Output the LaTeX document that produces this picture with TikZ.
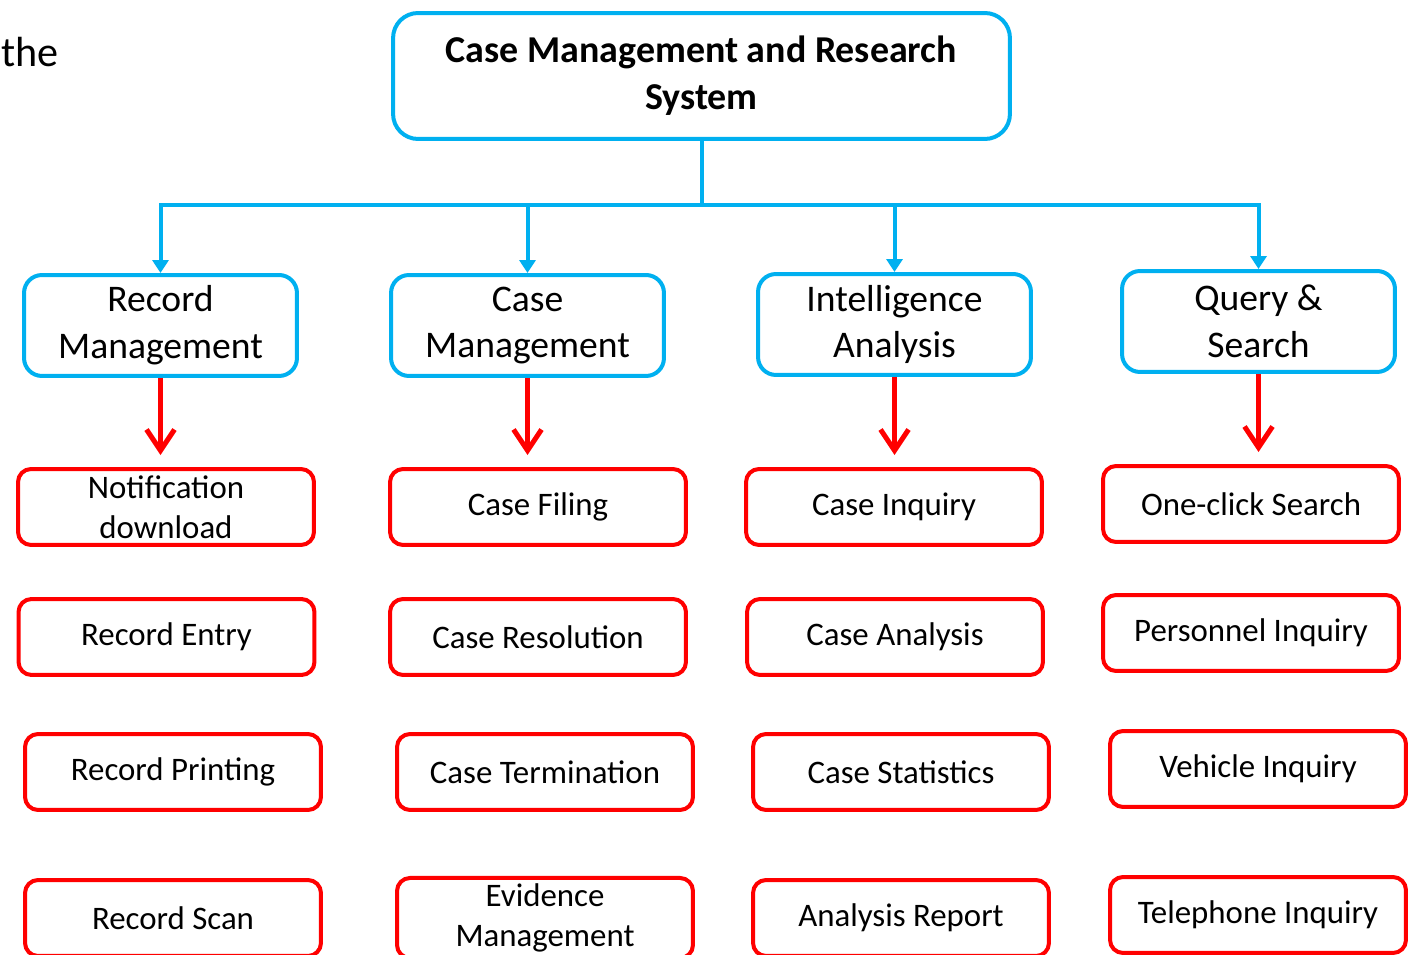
\documentclass[tikz,border=0pt]{standalone}
\usepackage{fontspec}
\setmainfont{Carlito}
\usetikzlibrary{positioning, arrows.meta}
\definecolor{sysblue}{HTML}{00B0F0}
\definecolor{sysred}{HTML}{FF0000}

\begin{document}
\begin{tikzpicture}[x=0.02cm, y=-0.02cm, >=Latex,
    module/.style={draw=sysblue, line width=0.08cm, rounded corners=0.36cm, minimum width=5.46cm, minimum height=2.02cm, align=center, font=\fontsize{21.4}{26.6}\selectfont},
    feature/.style={draw=sysred, line width=0.08cm, rounded corners=0.26cm, minimum width=5.92cm, minimum height=1.52cm, align=center, font=\fontsize{18.7}{22.7}\selectfont},
    branch/.style={draw=sysblue, line width=0.08cm, -{Triangle[length=0.26cm, width=0.32cm]}},
    drill/.style={draw=sysred, line width=0.1cm, -{Straight Barb[length=0.42cm, width=0.56cm]}, shorten >=0.24cm}]
    \path[use as bounding box, clip] (0,0) rectangle (1412,955);
    \fill[white] (0,0) rectangle (1412,955);

    \node[anchor=base west, inner sep=0pt, font=\fontsize{24}{29}\selectfont] (the) at (1,67) {the};

    % top
    \node[draw=sysblue, line width=0.08cm, rounded corners=0.5cm, minimum width=12.34cm, minimum height=2.52cm, align=center, font=\fontsize{21.6}{26.6}\selectfont\bfseries] (cmrs) at (701.5,76) {Case Management and Research\\System};
    \coordinate (split) at (701.5,205);

    % modules
    \node[module] (rec) at (160.5,325.5) {Record\\Management};
    \node[module] (cas) at (527.5,325.5) {Case\\Management};
    \node[module] (int) at (894.5,324.5) {Intelligence\\Analysis};
    \node[module] (qry) at (1258.5,321.5) {Query \&\\Search};

    % features
    \node[feature] (note) at (166,507) {Notification\\download};
    \node[feature] (entry) at (166.5,637) {Record Entry};
    \node[feature] (print) at (173,772) {Record Printing};
    \node[feature] (scan) at (173,918) {Record Scan};

    \node[feature] (filing) at (538,507) {Case Filing};
    \node[feature] (resol) at (538,637) {Case Resolution};
    \node[feature] (termin) at (545,772) {Case Termination};
    \node[feature] (evid) at (545,918) {Evidence\\Management};

    \node[feature] (inq) at (894,507) {Case Inquiry};
    \node[feature] (anal) at (895,637) {Case Analysis};
    \node[feature] (stat) at (901,772) {Case Statistics};
    \node[feature] (report) at (901,918) {Analysis Report};

    \node[feature] (oneclick) at (1251,504) {One-click Search};
    \node[feature] (pers) at (1251,633) {Personnel Inquiry};
    \node[feature] (veh) at (1258,769) {Vehicle Inquiry};
    \node[feature] (tel) at (1258,915) {Telephone Inquiry};

    % connectors
    \draw[sysblue, line width=0.08cm] (cmrs.south) -- (split);
    \foreach \m in {rec, cas, int, qry}
        \draw[branch] (split) -| (\m.north);
    \draw[drill] (rec.south) -- (rec.south |- note.north);
    \draw[drill] (cas.south) -- (cas.south |- filing.north);
    \draw[drill] (int.south) -- (int.south |- inq.north);
    \draw[drill] (qry.south) -- (qry.south |- oneclick.north);
\end{tikzpicture}
\end{document}
